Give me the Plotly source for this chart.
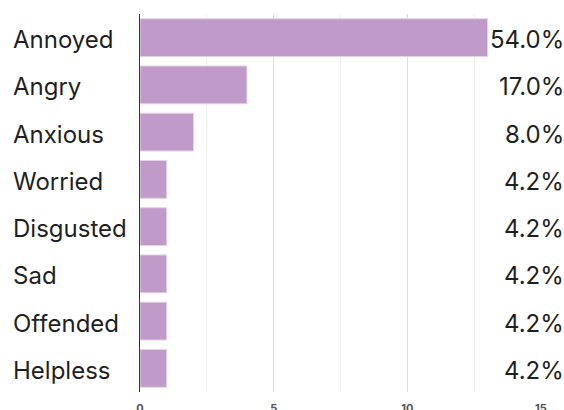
import plotly.graph_objects as go

# Emotion categories, response counts and the share labels shown at the right
categories = ["Annoyed", "Angry", "Anxious", "Worried", "Disgusted", "Sad", "Offended", "Helpless"]
counts = [13, 4, 2, 1, 1, 1, 1, 1]
share_labels = ["54.0%", "17.0%", "8.0%", "4.2%", "4.2%", "4.2%", "4.2%", "4.2%"]
x_ticks = [0, 5, 10, 15]

FONT = "Inter, Roboto, sans-serif"

fig = go.Figure(
    go.Bar(
        x=counts,
        y=categories,
        orientation="h",
        marker=dict(color="#C09AC8", line=dict(color="#E4D3E9", width=1)),
        hoverinfo="skip",
    )
)

annotations = []
for cat, lab in zip(categories, share_labels):
    # category name, left-aligned near the page edge
    annotations.append(dict(
        x=0, xref="paper", y=cat, yref="y", xanchor="left", xshift=-129, yshift=-2,
        text=cat, showarrow=False, font=dict(family=FONT, size=24, color="#1f1f1f"),
    ))
    # share label, right-aligned at the page edge
    annotations.append(dict(
        x=1, xref="paper", y=cat, yref="y", xanchor="right", xshift=25, yshift=-2,
        text=lab, showarrow=False, font=dict(family=FONT, size=24, color="#1f1f1f"),
    ))

fig.update_layout(
    width=564,
    height=410,
    margin=dict(l=140, r=23, t=14, b=18),
    paper_bgcolor="white",
    plot_bgcolor="white",
    bargap=0.2,
    showlegend=False,
    annotations=annotations,
    xaxis=dict(
        range=[0, 15],
        tickvals=x_ticks,
        ticktext=[str(t) for t in x_ticks],
        tickfont=dict(family=FONT, size=11, color="#555555", weight="bold"),
        showgrid=True,
        gridcolor="#dcdcdc",
        gridwidth=1,
        minor=dict(dtick=2.5, showgrid=True, gridcolor="#eeeeee", gridwidth=1),
        zeroline=False,
        showline=False,
        ticks="",
        ticklabelstandoff=8,
        automargin=False,
        fixedrange=True,
    ),
    yaxis=dict(
        autorange="reversed",
        showticklabels=False,
        showgrid=False,
        zeroline=False,
        showline=True,
        linecolor="#333333",
        linewidth=1,
        ticks="",
        automargin=False,
        fixedrange=True,
    ),
)

fig.write_html("out.html", config={"displayModeBar": False})
